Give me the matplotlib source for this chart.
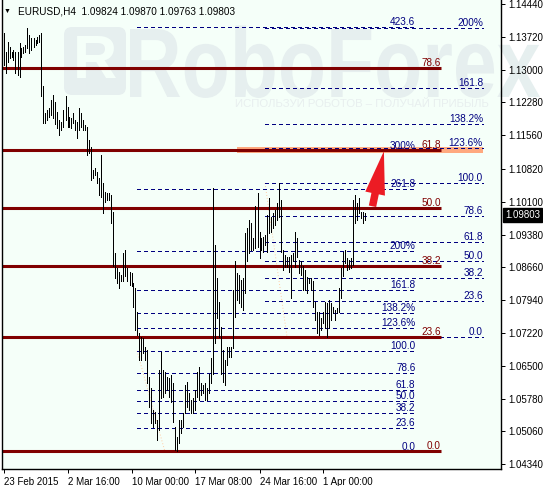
import numpy as np
import matplotlib.pyplot as plt
from matplotlib.patches import FancyArrowPatch, Rectangle, PathPatch, FancyBboxPatch
from matplotlib.textpath import TextPath
from matplotlib.font_manager import FontProperties
from matplotlib.transforms import Affine2D, blended_transform_factory

plt.rcParams['font.family'] = ['Liberation Sans', 'DejaVu Sans']

# ---data--- #
# EURUSD H4 bars, high / low
bar_high = [
    1.1380, 1.1339, 1.1361, 1.1350, 1.1339, 1.1343, 1.1339, 1.1339, 1.1358, 1.1347,
    1.1350, 1.1354, 1.1391, 1.1376, 1.1369, 1.1369, 1.1365, 1.1372, 1.1376, 1.1380,
    1.1263, 1.1204, 1.1211, 1.1215, 1.1233, 1.1244, 1.1230, 1.1208, 1.1189, 1.1186,
    1.1211, 1.1241, 1.1219, 1.1197, 1.1193, 1.1204, 1.1189, 1.1186, 1.1215, 1.1204,
    1.1189, 1.1178, 1.1175, 1.1146, 1.1131, 1.1080, 1.1083, 1.1076, 1.1062, 1.1113,
    1.1051, 1.1032, 1.1030, 1.1029, 1.1025, 1.0988, 1.0897, 1.0864, 1.0856, 1.0849,
    1.0897, 1.0904, 1.0864, 1.0856, 1.0853, 1.0831, 1.0820, 1.0769, 1.0721, 1.0714,
    1.0710, 1.0692, 1.0685, 1.0626, 1.0601, 1.0553, 1.0549, 1.0531, 1.0641, 1.0681,
    1.0641, 1.0637, 1.0626, 1.0623, 1.0630, 1.0612, 1.0516, 1.0494, 1.0531, 1.0531,
    1.0546, 1.0608, 1.0615, 1.0590, 1.0575, 1.0579, 1.0597, 1.0637, 1.0648, 1.0612,
    1.0608, 1.0612, 1.0601, 1.0633, 1.0666, 1.1040, 1.0915, 1.0842, 1.0791, 1.0736,
    1.0685, 1.0663, 1.0692, 1.0692, 1.0692, 1.0816, 1.0879, 1.0853, 1.0849, 1.0838,
    1.0842, 1.0941, 1.0952, 1.0970, 1.0963, 1.0930, 1.1000, 1.1029, 1.0944, 1.0930,
    1.0933, 1.0937, 1.0981, 1.1018, 1.0977, 1.0985, 1.0992, 1.1007, 1.1051, 1.1014,
    1.0904, 1.0893, 1.0889, 1.0889, 1.0893, 1.0897, 1.0944, 1.0930, 1.0882, 1.0879,
    1.0868, 1.0860, 1.0845, 1.0842, 1.0842, 1.0835, 1.0791, 1.0769, 1.0769, 1.0754,
    1.0769, 1.0791, 1.0787, 1.0794, 1.0787, 1.0780, 1.0772, 1.0776, 1.0820, 1.0864,
    1.0900, 1.0904, 1.0886, 1.0882, 1.0886, 1.1014, 1.1025, 1.1007, 1.1018, 1.0988,
    1.0988, 1.0985,
]
bar_low = [
    1.1310, 1.1292, 1.1317, 1.1325, 1.1328, 1.1321, 1.1292, 1.1288, 1.1284, 1.1328,
    1.1336, 1.1339, 1.1347, 1.1336, 1.1343, 1.1350, 1.1354, 1.1358, 1.1361, 1.1241,
    1.1182, 1.1182, 1.1189, 1.1197, 1.1200, 1.1193, 1.1180, 1.1171, 1.1156, 1.1167,
    1.1175, 1.1189, 1.1175, 1.1175, 1.1171, 1.1182, 1.1167, 1.1149, 1.1167, 1.1175,
    1.1167, 1.1167, 1.1113, 1.1116, 1.1058, 1.1062, 1.1069, 1.1051, 1.1025, 1.1021,
    1.0985, 1.1010, 1.1014, 1.1014, 1.0963, 1.0868, 1.0842, 1.0831, 1.0820, 1.0835,
    1.0835, 1.0846, 1.0835, 1.0827, 1.0824, 1.0780, 1.0729, 1.0717, 1.0663, 1.0663,
    1.0677, 1.0663, 1.0612, 1.0560, 1.0524, 1.0516, 1.0524, 1.0487, 1.0509, 1.0579,
    1.0582, 1.0590, 1.0597, 1.0582, 1.0571, 1.0527, 1.0465, 1.0462, 1.0480, 1.0502,
    1.0516, 1.0546, 1.0560, 1.0553, 1.0546, 1.0546, 1.0553, 1.0582, 1.0575, 1.0586,
    1.0590, 1.0575, 1.0575, 1.0590, 1.0612, 1.0633, 1.0699, 1.0754, 1.0714, 1.0633,
    1.0615, 1.0608, 1.0652, 1.0670, 1.0670, 1.0688, 1.0758, 1.0794, 1.0787, 1.0780,
    1.0772, 1.0809, 1.0879, 1.0897, 1.0904, 1.0904, 1.0908, 1.0911, 1.0886, 1.0904,
    1.0900, 1.0915, 1.0900, 1.0941, 1.0944, 1.0952, 1.0959, 1.0970, 1.0977, 1.0900,
    1.0860, 1.0867, 1.0867, 1.0856, 1.0798, 1.0879, 1.0867, 1.0889, 1.0853, 1.0849,
    1.0816, 1.0816, 1.0809, 1.0831, 1.0816, 1.0780, 1.0750, 1.0722, 1.0717, 1.0728,
    1.0743, 1.0732, 1.0714, 1.0732, 1.0750, 1.0765, 1.0750, 1.0765, 1.0769, 1.0798,
    1.0846, 1.0875, 1.0860, 1.0862, 1.0864, 1.0871, 1.0963, 1.0970, 1.0985, 1.0974,
    1.0963, 1.0970,
]

date_bars = [0, 32, 64, 96, 128, 160]
date_labels = ['23 Feb 2015', '2 Mar 16:00', '10 Mar 00:00', '17 Mar 08:00',
               '24 Mar 16:00', '1 Apr 00:00']
price_ticks = [1.14440, 1.13720, 1.13000, 1.12280, 1.11560, 1.10820, 1.10100,
               1.09380, 1.08660, 1.07940, 1.07220, 1.06500, 1.05780, 1.05060, 1.04340]
title_text = 'EURUSD,H4  1.09824 1.09870 1.09763 1.09803'
last_price = 1.09803

# big retracement (dark red, runs in from the left edge)
red_fib_labels = ['0.0', '23.6', '38.2', '50.0', '61.8', '78.6']
red_fib_prices = [1.0463, 1.0713, 1.0869, 1.0996, 1.1124, 1.1303]
red_fib_end = 218.75

# fibo on the March drop (navy dashed)
fib_a_labels = ['0.0', '23.6', '38.2', '50.0', '61.8', '78.6', '100.0',
                '123.6%', '138.2%', '161.8', '200%', '261.8', '300%', '423.6']
fib_a_prices = [1.0461, 1.0513, 1.0546, 1.0572, 1.0596, 1.0634, 1.0683,
                1.0733, 1.0766, 1.0816, 1.0902, 1.1038, 1.1122, 1.1394]
fib_a_bars = [66.75, 80.75]
fib_a_anchor = [1.0683, 1.0461]
fib_a_end = 206.0

# fibo on the late-March swing (navy dashed)
fib_b_labels = ['0.0', '23.6', '38.2', '50.0', '61.8', '78.6', '100.0',
                '123.6%', '138.2%', '161.8', '200%']
fib_b_prices = [1.0714, 1.0792, 1.0842, 1.0881, 1.0922, 1.0978, 1.1051,
                1.1129, 1.1181, 1.1260, 1.1391]
fib_b_bars = [130.75, 141.75]
fib_b_anchor = [1.1051, 1.0714]
fib_b_end = 239.75

# target zone and arrow
zone_bars = [116.75, 239.75]
zone_prices = [1.1116, 1.1130]
arrow_bars = [184.5, 190.2]
arrow_prices = [1.1000, 1.1121]

# ---style--- #
BG = '#F5FFF9'
MAROON = '#800000'
NAVY = '#000080'
PX = 0.72  # one pixel in points at dpi 100

fig = plt.figure(figsize=(5.43, 4.86), dpi=100, facecolor='white')
ax = fig.add_axes([2 / 543, 17 / 486, 499 / 543, 469 / 486])
ax.set_zorder(1)
ax.patch.set_visible(False)
ax.set_xlim(-0.75, 248.75)
ax.set_ylim(1.04234, 1.14528)

# chart background + watermark, drawn on the figure beneath the axes
fig.patches.append(Rectangle((2, 17), 499, 469, transform=None, fc=BG,
                             ec='none', zorder=0.1))
wm = '#E6EFEF'
tp = TextPath((0, 0), 'RoboForex', size=100,
              prop=FontProperties(family='Liberation Sans', weight='bold'))
ext = tp.get_extents()
sx = 410 / ext.width
sy = 72 / 72.9
tr = Affine2D().translate(-ext.x0, 0).scale(sx, sy).translate(130, 486 - 97)
fig.patches.append(PathPatch(tr.transform_path(tp), fc=wm, ec='none',
                             transform=None, zorder=0.5))
fig.patches.append(FancyBboxPatch((64, 486 - 95), 62, 68,
                                  boxstyle='round,pad=0,rounding_size=8',
                                  fc=wm, ec='none', transform=None, zorder=0.5))
fig.text(95 / 543, 1 - 62 / 486, 'R', color=BG, fontsize=44, fontweight='bold',
         ha='center', va='center', zorder=0.6)
fig.text(362 / 543, 1 - 104 / 486, 'ИСПОЛЬЗУЙ РОБОТОВ – ПОЛУЧАЙ ПРИБЫЛЬ',
         color='#E8EFEF', fontsize=8.2, ha='center', va='center', zorder=0.6)

# target zone
ax.add_patch(Rectangle((zone_bars[0], zone_prices[0]), zone_bars[1] - zone_bars[0],
                       zone_prices[1] - zone_prices[0], fc='#FFA97F', ec='none',
                       zorder=1))

# anchor lines of the navy fibos
ax.plot(fib_a_bars, fib_a_anchor, color='#FFCFA8', lw=PX, ls=(0, (1, 2)), zorder=1.5)
ax.plot(fib_b_bars, fib_b_anchor, color='#FFCFA8', lw=PX, ls=(0, (1, 2)), zorder=1.5)

# navy dashed fibo levels
for lab, p in zip(fib_a_labels, fib_a_prices):
    ax.hlines(p, fib_a_bars[0], fib_a_end, color=NAVY, lw=PX,
              linestyles=(0, (4, 3)), zorder=2, antialiased=False)
    ax.text(fib_a_end, p, lab, ha='right', va='bottom', fontsize=7.2,
            color=NAVY, zorder=4)
for lab, p in zip(fib_b_labels, fib_b_prices):
    ax.hlines(p, fib_b_bars[0], fib_b_end, color=NAVY, lw=PX,
              linestyles=(0, (4, 3)), zorder=2, antialiased=False)
    ax.text(fib_b_end, p, lab, ha='right', va='bottom', fontsize=7.2,
            color=NAVY, zorder=4)

# dark red fibo levels
for lab, p in zip(red_fib_labels, red_fib_prices):
    ax.hlines(p, -0.75, red_fib_end, color=MAROON, lw=2.2, zorder=2.5)
    ax.text(red_fib_end, p, lab, ha='right', va='bottom', fontsize=7.2,
            color=MAROON, zorder=4)

# bars
idx = np.arange(len(bar_high))
ax.vlines(idx, bar_low, bar_high, color='black', lw=PX, zorder=3,
          antialiased=False)

# arrow
ax.add_patch(FancyArrowPatch((arrow_bars[0], arrow_prices[0]),
                             (arrow_bars[1], arrow_prices[1]),
                             arrowstyle='simple,head_length=2.6,head_width=1.2,tail_width=0.45',
                             mutation_scale=12, color='#EC1C24', lw=0, zorder=5,
                             shrinkA=0, shrinkB=0))

# axes frame and ticks
ax.spines['top'].set_visible(False)
for s in ['left', 'right', 'bottom']:
    ax.spines[s].set_linewidth(PX * 1.4)
    ax.spines[s].set_color('black')
ax.yaxis.tick_right()
ax.set_yticks(price_ticks)
ax.set_yticklabels(['%.5f' % v for v in price_ticks])
ax.set_xticks(date_bars)
ax.set_xticklabels(date_labels, ha='left')
ax.tick_params(axis='both', direction='out', length=3, width=PX, labelsize=7,
               colors='black', pad=2)
ax.tick_params(axis='x', pad=3)

# last price box
bt = blended_transform_factory(ax.transAxes, ax.transData)
ax.text(1.008, last_price, '%.5f' % last_price, transform=bt, ha='left',
        va='center', fontsize=7, color='white', zorder=6, clip_on=False,
        bbox=dict(boxstyle='square,pad=0.2', fc='black', ec='black'))

# title
fig.text(4 / 543, 1 - 11 / 486, '▼', fontsize=5, ha='left', va='center')
fig.text(18 / 543, 1 - 11 / 486, title_text, fontsize=7.2, ha='left', va='center')

fig.savefig('out.png', dpi=100, facecolor='white')
